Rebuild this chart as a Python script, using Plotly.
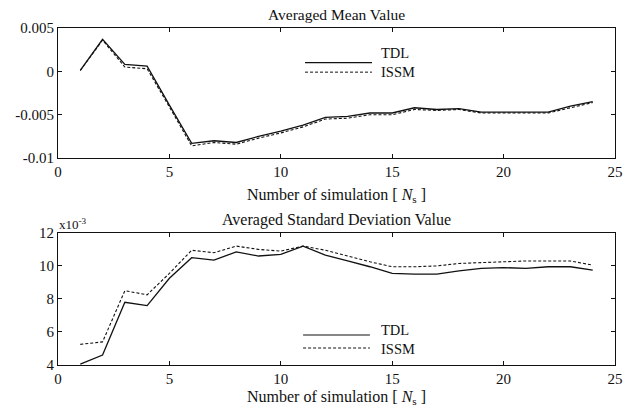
import plotly.graph_objects as go

# ---- data ----
n_sim = list(range(1, 25))
mean_tdl = [0.0001, 0.0037, 0.0008, 0.0006, -0.0039, -0.0083, -0.0080, -0.0082, -0.0075,
            -0.0069, -0.0062, -0.0053, -0.0052, -0.0048, -0.0048, -0.0042, -0.0044, -0.0043,
            -0.0047, -0.0047, -0.0047, -0.0047, -0.0040, -0.0035]
mean_issm = [0.0001, 0.0036, 0.0005, 0.0003, -0.0041, -0.0086, -0.0082, -0.0084, -0.0077,
             -0.0071, -0.0064, -0.0055, -0.0054, -0.0050, -0.0050, -0.0044, -0.0045, -0.0044,
             -0.0048, -0.0048, -0.0048, -0.0048, -0.0042, -0.0036]
std_tdl = [4.05, 4.6, 7.8, 7.6, 9.25, 10.5, 10.35, 10.85, 10.6, 10.7, 11.2, 10.65,
           10.3, 9.95, 9.55, 9.5, 9.5, 9.7, 9.85, 9.9, 9.85, 9.95, 9.95, 9.75]
std_issm = [5.25, 5.4, 8.5, 8.25, 9.55, 10.95, 10.8, 11.2, 11.0, 10.9, 11.2, 10.95,
            10.6, 10.25, 9.95, 9.95, 10.0, 10.15, 10.2, 10.25, 10.3, 10.3, 10.3, 10.05]

x_ticks = [0, 5, 10, 15, 20, 25]
mean_ticks = [0.005, 0, -0.005, -0.01]
mean_tick_text = ["0.005", "0", "-0.005", "-0.01"]
std_ticks = [4, 6, 8, 10, 12]
series_names = ["TDL", "ISSM"]

FONT = "Liberation Serif"
BLACK = "#111111"

fig = go.Figure()
fig.add_trace(go.Scatter(x=n_sim, y=mean_tdl, mode="lines", line=dict(color=BLACK, width=1.3),
                         xaxis="x", yaxis="y", showlegend=False))
fig.add_trace(go.Scatter(x=n_sim, y=mean_issm, mode="lines",
                         line=dict(color=BLACK, width=1.1, dash="3px,2px"),
                         xaxis="x", yaxis="y", showlegend=False))
fig.add_trace(go.Scatter(x=n_sim, y=std_tdl, mode="lines", line=dict(color=BLACK, width=1.3),
                         xaxis="x2", yaxis="y2", showlegend=False))
fig.add_trace(go.Scatter(x=n_sim, y=std_issm, mode="lines",
                         line=dict(color=BLACK, width=1.1, dash="3px,2px"),
                         xaxis="x2", yaxis="y2", showlegend=False))

axis_common = dict(showgrid=False, zeroline=False, showline=True, linecolor=BLACK, linewidth=1,
                   mirror="ticks", ticks="inside", ticklen=4, tickcolor=BLACK,
                   tickfont=dict(family=FONT, size=15, color=BLACK))

fig.update_layout(
    width=636, height=410,
    margin=dict(l=58, r=21, t=28, b=45),
    paper_bgcolor="white", plot_bgcolor="white",
    font=dict(family=FONT, color=BLACK),
    xaxis=dict(domain=[0, 1], range=[0, 25], tickvals=x_ticks, anchor="y", **axis_common),
    yaxis=dict(domain=[0.614, 1.0], range=[-0.01, 0.005], tickvals=mean_ticks,
               ticktext=mean_tick_text, anchor="x", **axis_common),
    xaxis2=dict(domain=[0, 1], range=[0, 25], tickvals=x_ticks, anchor="y2", **axis_common),
    yaxis2=dict(domain=[0.0, 0.392], range=[4, 12], tickvals=std_ticks, anchor="x2",
                **axis_common),
)

ann = []
def text(x, y, s, size=13, xanchor="center", align="center"):
    ann.append(dict(x=x, y=y, xref="paper", yref="paper", text=s, showarrow=False,
                    xanchor=xanchor, yanchor="middle", align=align, borderpad=0,
                    font=dict(family=FONT, size=size, color=BLACK)))

text(0.5, 1.039, "Averaged Mean Value", 15.5)
text(0.5, 0.504, "Number of simulation [ <i>N</i><sub>s</sub> ]", 16)
text(0.5, 0.431, "Averaged Standard Deviation Value", 16)
text(0.5, -0.095, "Number of simulation [ <i>N</i><sub>s</sub> ]", 16)
text(0.0, 0.418, "x10<sup>-3</sup>", 13, xanchor="left")
# legends (two-line labels)
legend_label = "<br>".join(series_names)
text(0.578, 0.899, legend_label, 14.5, xanchor="left", align="left")
text(0.578, 0.077, legend_label, 14.5, xanchor="left", align="left")
fig.update_layout(annotations=ann)

shapes = []
for x0, x1, y0, dash in [(0.4435, 0.5637, 0.897, "solid"), (0.4435, 0.5637, 0.869, "3px,2px"),
                         (0.44, 0.56, 0.089, "solid"), (0.44, 0.56, 0.0504, "3px,2px")]:
    shapes.append(dict(type="line", xref="paper", yref="paper", x0=x0, x1=x1, y0=y0, y1=y0,
                       line=dict(color=BLACK, width=1.2 if dash == "solid" else 1.0, dash=dash)))
fig.update_layout(shapes=shapes)

fig.write_html("out.html")
